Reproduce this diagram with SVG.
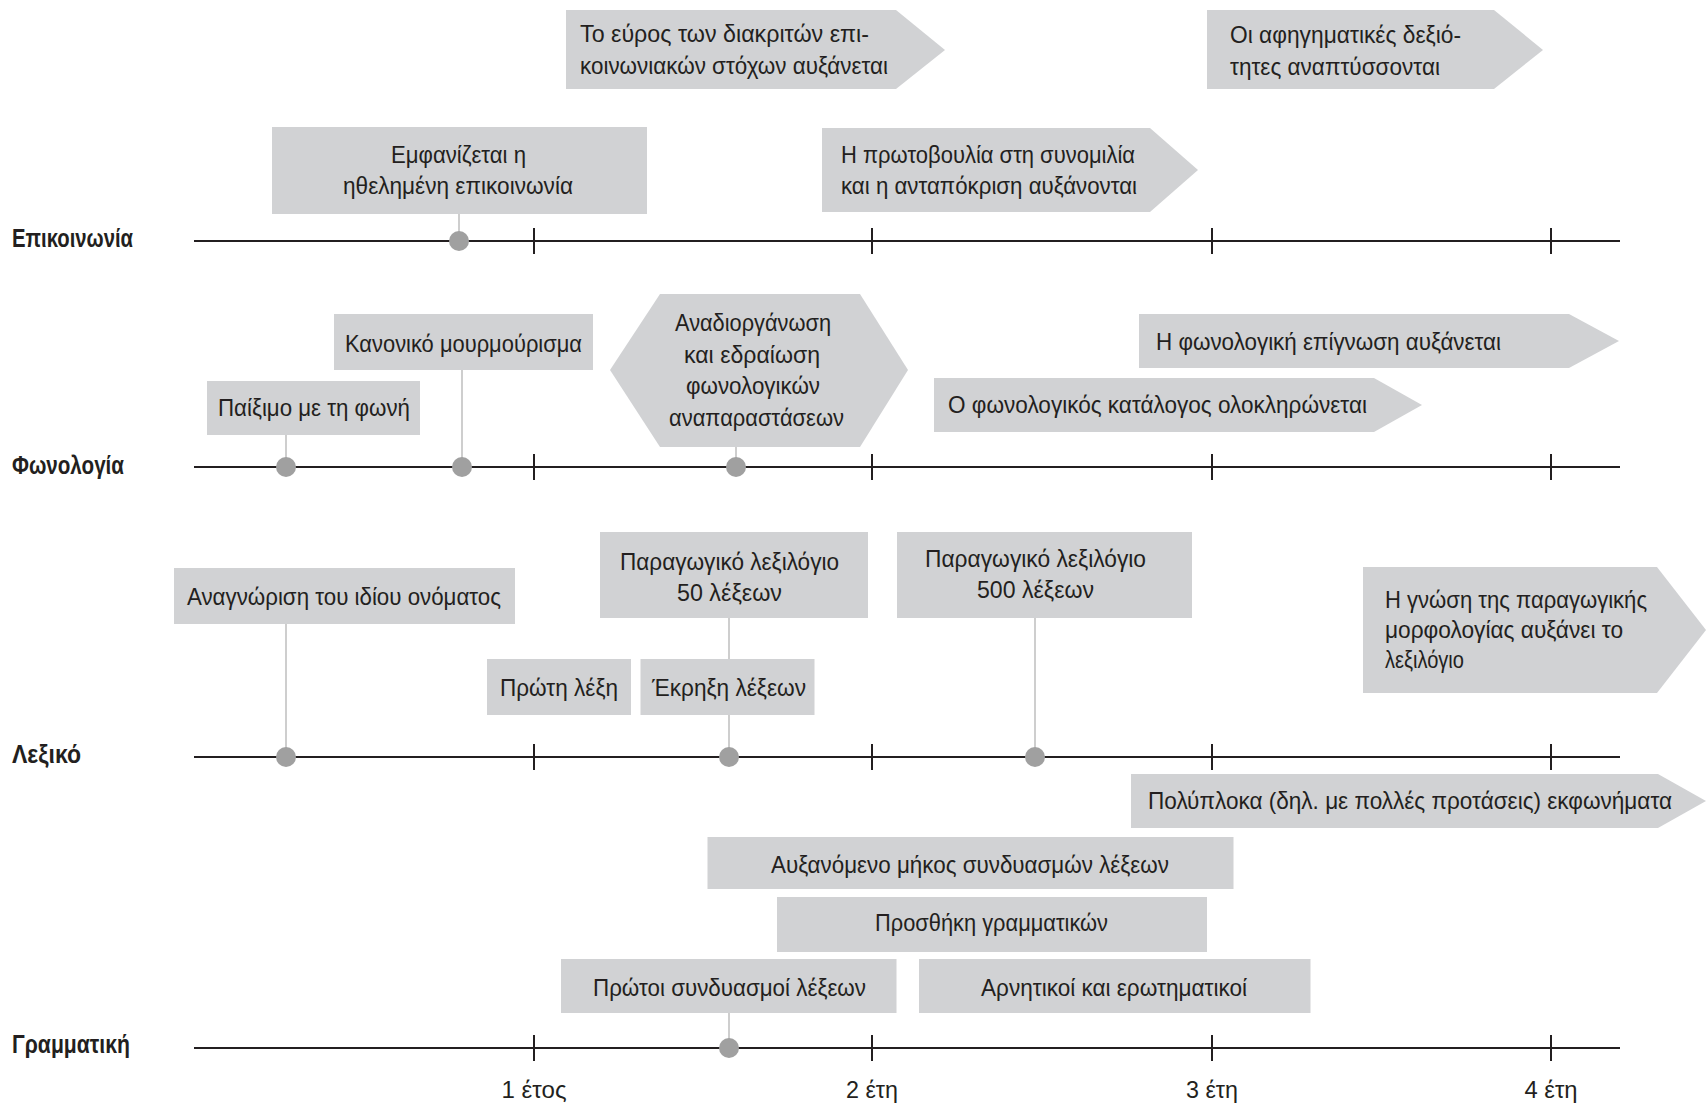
<svg xmlns="http://www.w3.org/2000/svg" width="1708" height="1103" viewBox="0 0 1708 1103">
<style>
  .box { fill: #d1d2d4; }
  .t { font-family: "Liberation Sans Narrow", "Liberation Sans", Arial, sans-serif; font-size: 24px; fill: #231f20; }
  .lbl { font-family: "Liberation Sans Narrow", "Liberation Sans", Arial, sans-serif; font-size: 25px; font-weight: bold; fill: #231f20; }
  .axis { stroke: #231f20; stroke-width: 2.2; fill: none; }
  .tick { stroke: #231f20; stroke-width: 2; }
  .conn { stroke: #c6c6c6; stroke-width: 1.7; fill: none; }
  .dot { fill: #a0a0a0; }
</style>
<rect width="1708" height="1103" fill="#ffffff"/>

<g id="axes">
  <line class="axis" x1="194" y1="241" x2="1620" y2="241"/>
  <line class="axis" x1="194" y1="467" x2="1620" y2="467"/>
  <line class="axis" x1="194" y1="757" x2="1620" y2="757"/>
  <line class="axis" x1="194" y1="1048" x2="1620" y2="1048"/>
  <g class="tick">
    <line x1="534" y1="228" x2="534" y2="254"/><line x1="872" y1="228" x2="872" y2="254"/><line x1="1212" y1="228" x2="1212" y2="254"/><line x1="1551" y1="228" x2="1551" y2="254"/>
    <line x1="534" y1="454" x2="534" y2="480"/><line x1="872" y1="454" x2="872" y2="480"/><line x1="1212" y1="454" x2="1212" y2="480"/><line x1="1551" y1="454" x2="1551" y2="480"/>
    <line x1="534" y1="744" x2="534" y2="770"/><line x1="872" y1="744" x2="872" y2="770"/><line x1="1212" y1="744" x2="1212" y2="770"/><line x1="1551" y1="744" x2="1551" y2="770"/>
    <line x1="534" y1="1035" x2="534" y2="1061"/><line x1="872" y1="1035" x2="872" y2="1061"/><line x1="1212" y1="1035" x2="1212" y2="1061"/><line x1="1551" y1="1035" x2="1551" y2="1061"/>
  </g>
  <text class="lbl" x="12" y="247" textLength="121" lengthAdjust="spacingAndGlyphs">Επικοινωνία</text>
  <text class="lbl" x="12" y="474" textLength="112" lengthAdjust="spacingAndGlyphs">Φωνολογία</text>
  <text class="lbl" x="12" y="763" textLength="69" lengthAdjust="spacingAndGlyphs">Λεξικό</text>
  <text class="lbl" x="12" y="1053" textLength="118" lengthAdjust="spacingAndGlyphs">Γραμματική</text>
  <text class="t" x="501.5" y="1098" textLength="65" lengthAdjust="spacingAndGlyphs">1 έτος</text>
  <text class="t" x="846" y="1098" textLength="52" lengthAdjust="spacingAndGlyphs">2 έτη</text>
  <text class="t" x="1186" y="1098" textLength="52" lengthAdjust="spacingAndGlyphs">3 έτη</text>
  <text class="t" x="1524.5" y="1098" textLength="53" lengthAdjust="spacingAndGlyphs">4 έτη</text>
</g>

<g id="connectors">
  <line class="conn" x1="459" y1="214" x2="459" y2="241"/>
  <line class="conn" x1="286" y1="435" x2="286" y2="467"/>
  <line class="conn" x1="462" y1="370" x2="462" y2="467"/>
  <line class="conn" x1="736" y1="447" x2="736" y2="467"/>
  <line class="conn" x1="286" y1="624" x2="286" y2="757"/>
  <line class="conn" x1="729" y1="618" x2="729" y2="757"/>
  <line class="conn" x1="1035" y1="618" x2="1035" y2="757"/>
  <line class="conn" x1="729" y1="1013" x2="729" y2="1048"/>
  <circle class="dot" cx="459" cy="241" r="10"/>
  <circle class="dot" cx="286" cy="467" r="10"/>
  <circle class="dot" cx="462" cy="467" r="10"/>
  <circle class="dot" cx="736" cy="467" r="10"/>
  <circle class="dot" cx="286" cy="757" r="10"/>
  <circle class="dot" cx="729" cy="757" r="10"/>
  <circle class="dot" cx="1035" cy="757" r="10"/>
  <circle class="dot" cx="729" cy="1048" r="10"/>
</g>

<g id="n-euros">
  <polygon class="box" points="566,10 896,10 945,50 896,89 566,89"/>
  <text class="t" x="580" y="42" textLength="289" lengthAdjust="spacingAndGlyphs">Το εύρος των διακριτών επι-</text>
  <text class="t" x="580" y="74" textLength="308" lengthAdjust="spacingAndGlyphs">κοινωνιακών στόχων αυξάνεται</text>
</g>
<g id="n-afigimatikes">
  <polygon class="box" points="1207,10 1494,10 1543,50 1494,89 1207,89"/>
  <text class="t" x="1230" y="43" textLength="231" lengthAdjust="spacingAndGlyphs">Οι αφηγηματικές δεξιό-</text>
  <text class="t" x="1230" y="75" textLength="210" lengthAdjust="spacingAndGlyphs">τητες αναπτύσσονται</text>
</g>
<g id="n-emfanizetai">
  <rect class="box" x="272" y="127" width="375" height="87"/>
  <text class="t" x="391" y="163" textLength="135" lengthAdjust="spacingAndGlyphs">Εμφανίζεται η</text>
  <text class="t" x="343" y="194" textLength="230" lengthAdjust="spacingAndGlyphs">ηθελημένη επικοινωνία</text>
</g>
<g id="n-protovoulia">
  <polygon class="box" points="822,128 1150,128 1198,170 1150,212 822,212"/>
  <text class="t" x="841" y="163" textLength="294" lengthAdjust="spacingAndGlyphs">Η πρωτοβουλία στη συνομιλία</text>
  <text class="t" x="841" y="194" textLength="296" lengthAdjust="spacingAndGlyphs">και η ανταπόκριση αυξάνονται</text>
</g>
<g id="n-paiximo">
  <rect class="box" x="207" y="381" width="213" height="54"/>
  <text class="t" x="218" y="416" textLength="192" lengthAdjust="spacingAndGlyphs">Παίξιμο με τη φωνή</text>
</g>
<g id="n-kanoniko">
  <rect class="box" x="334" y="314" width="259" height="56"/>
  <text class="t" x="345" y="352" textLength="237" lengthAdjust="spacingAndGlyphs">Κανονικό μουρμούρισμα</text>
</g>
<g id="n-anadiorganosi">
  <polygon class="box" points="660,294 860,294 908,370 860,447 660,447 610,370"/>
  <text class="t" x="675" y="331" textLength="156" lengthAdjust="spacingAndGlyphs">Αναδιοργάνωση</text>
  <text class="t" x="684" y="363" textLength="136" lengthAdjust="spacingAndGlyphs">και εδραίωση</text>
  <text class="t" x="686" y="394" textLength="134" lengthAdjust="spacingAndGlyphs">φωνολογικών</text>
  <text class="t" x="669" y="426" textLength="175" lengthAdjust="spacingAndGlyphs">αναπαραστάσεων</text>
</g>
<g id="n-epignosi">
  <polygon class="box" points="1139,314 1569,314 1619,341 1569,368 1139,368"/>
  <text class="t" x="1156" y="350" textLength="345" lengthAdjust="spacingAndGlyphs">Η φωνολογική επίγνωση αυξάνεται</text>
</g>
<g id="n-katalogos">
  <polygon class="box" points="934,378 1374,378 1422,405 1374,432 934,432"/>
  <text class="t" x="948" y="413" textLength="419" lengthAdjust="spacingAndGlyphs">Ο φωνολογικός κατάλογος ολοκληρώνεται</text>
</g>
<g id="n-anagnorisi">
  <rect class="box" x="174" y="568" width="341" height="56"/>
  <text class="t" x="187" y="605" textLength="314" lengthAdjust="spacingAndGlyphs">Αναγνώριση του ιδίου ονόματος</text>
</g>
<g id="n-lexilogio50">
  <rect class="box" x="600" y="532" width="268" height="86"/>
  <text class="t" x="620" y="570" textLength="219" lengthAdjust="spacingAndGlyphs">Παραγωγικό λεξιλόγιο</text>
  <text class="t" x="677" y="601" textLength="105" lengthAdjust="spacingAndGlyphs">50 λέξεων</text>
</g>
<g id="n-lexilogio500">
  <rect class="box" x="897" y="532" width="295" height="86"/>
  <text class="t" x="925" y="567" textLength="221" lengthAdjust="spacingAndGlyphs">Παραγωγικό λεξιλόγιο</text>
  <text class="t" x="977" y="598" textLength="117" lengthAdjust="spacingAndGlyphs">500 λέξεων</text>
</g>
<g id="n-proti-lexi">
  <rect class="box" x="487" y="659" width="144" height="56"/>
  <text class="t" x="500" y="696" textLength="118" lengthAdjust="spacingAndGlyphs">Πρώτη λέξη</text>
</g>
<g id="n-ekrixi">
  <rect class="box" x="640.5" y="659" width="174" height="56"/>
  <text class="t" x="652" y="696" textLength="154" lengthAdjust="spacingAndGlyphs">Έκρηξη λέξεων</text>
</g>
<g id="n-morfologia">
  <polygon class="box" points="1363,567 1657,567 1706,630 1657,693 1363,693"/>
  <text class="t" x="1385" y="608" textLength="262" lengthAdjust="spacingAndGlyphs">Η γνώση της παραγωγικής</text>
  <text class="t" x="1385" y="638" textLength="238" lengthAdjust="spacingAndGlyphs">μορφολογίας αυξάνει το</text>
  <text class="t" x="1385" y="668" textLength="79" lengthAdjust="spacingAndGlyphs">λεξιλόγιο</text>
</g>
<g id="n-polyploka">
  <polygon class="box" points="1131,774 1658,774 1706,801 1658,828 1131,828"/>
  <text class="t" x="1148" y="809" textLength="524" lengthAdjust="spacingAndGlyphs">Πολύπλοκα (δηλ. με πολλές προτάσεις) εκφωνήματα</text>
</g>
<g id="n-afxanomeno">
  <rect class="box" x="707.5" y="837" width="526" height="52"/>
  <text class="t" x="771" y="873" textLength="398" lengthAdjust="spacingAndGlyphs">Αυξανόμενο μήκος συνδυασμών λέξεων</text>
</g>
<g id="n-prosthiki">
  <rect class="box" x="777" y="897" width="430" height="55"/>
  <text class="t" x="875" y="931" textLength="233" lengthAdjust="spacingAndGlyphs">Προσθήκη γραμματικών</text>
</g>
<g id="n-protoi">
  <rect class="box" x="561" y="959" width="335.5" height="54"/>
  <text class="t" x="593" y="996" textLength="273" lengthAdjust="spacingAndGlyphs">Πρώτοι συνδυασμοί λέξεων</text>
</g>
<g id="n-arnitikoi">
  <rect class="box" x="919" y="959" width="391.5" height="54"/>
  <text class="t" x="981" y="996" textLength="266" lengthAdjust="spacingAndGlyphs">Αρνητικοί και ερωτηματικοί</text>
</g>
</svg>
